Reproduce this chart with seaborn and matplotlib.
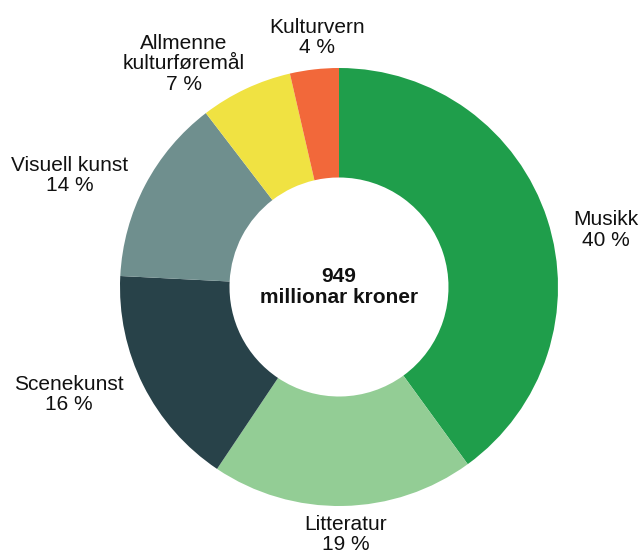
import matplotlib.pyplot as plt
import seaborn as sns

# Kulturfordeling - 949 millionar kroner
categories = ['Musikk', 'Litteratur', 'Scenekunst', 'Visuell kunst',
              'Allmenne\nkulturføremål', 'Kulturvern']
shares = [40.0, 19.4, 16.4, 13.8, 6.8, 3.6]
colors = ['#1f9e4b', '#93cd95', '#284249', '#6f8f8e', '#f0e242', '#f2683a']
total_label = '949\nmillionar kroner'

# plassering av etikettar (dataeiningar, radius = 1)
label_pos = [(1.22, 0.26), (0.03, -1.13), (-1.235, -0.49),
             (-1.23, 0.51), (-0.71, 1.02), (-0.10, 1.14)]

sns.set_theme(style='white')
plt.rcParams['font.family'] = ['Liberation Sans', 'DejaVu Sans']

fig = plt.figure(figsize=(6.43, 5.52), dpi=100)
# sentrum (339, 287) px, radius 219 px
r_px = 219
span = 1.5
w_px = 2 * span * r_px
ax = fig.add_axes([(339 - w_px / 2) / 643, (552 - 287 - w_px / 2) / 552,
                   w_px / 643, w_px / 552])

ax.pie(shares, colors=colors, startangle=90, counterclock=False,
       radius=1, wedgeprops=dict(width=0.5, edgecolor='none'))

for cat, val, (x, y) in zip(categories, shares, label_pos):
    ax.text(x, y, f'{cat}\n{round(val)} %', ha='center', va='center',
            fontsize=15, color='#111111', linespacing=1.1)

ax.text(0, 0, total_label, ha='center', va='center', fontsize=15,
        fontweight='bold', color='#111111', linespacing=1.1)

ax.set_xlim(-span, span)
ax.set_ylim(-span, span)
ax.set_aspect('equal')
ax.axis('off')

fig.savefig('out.png', dpi=100)
